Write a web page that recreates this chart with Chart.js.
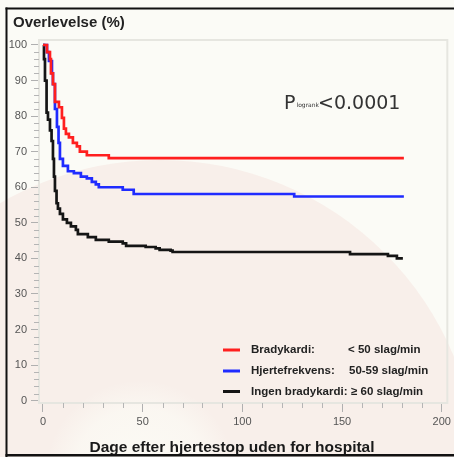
<!DOCTYPE html>
<html lang="da">
<head>
<meta charset="UTF-8">
<title>Overlevelse</title>
<style>
  html, body { margin: 0; padding: 0; background: #fbfbf6; }
  #wrap { width: 454px; height: 457px; }
</style>
</head>
<body>
<div id="wrap"><canvas id="kmChart" width="454" height="457"></canvas></div>
<script src="https://cdn.jsdelivr.net/npm/chart.js@4.4.1/dist/chart.umd.min.js"></script>
<script>
// grupper efter hjertefrekvens
var groupNames = ['Bradykardi:', 'Hjertefrekvens:', 'Ingen bradykardi:'];
var groupRates = ['< 50 slag/min', '50-59 slag/min', '\u2265 60 slag/min'];
var groupColors = ['#ff1f1f', '#1f2bff', '#151515'];

// Kaplan-Meier trin: dag og overlevelse (%) efter haendelsen
var redDays = [0, 2, 3.5, 4, 5, 6, 8, 9.5, 10.5, 11.5, 13, 15, 17, 18.5, 22, 33, 181];
var redSurv = [100, 98, 96, 92, 89, 84, 82.5, 79.5, 76.5, 75, 74, 72.5, 71.5, 70, 69, 68.2, 68.2];

var blueDays = [0, 2, 3, 4.5, 5, 6, 7, 7.8, 8.5, 10, 12.5, 15.5, 19, 22, 24.5, 26.5, 28, 40, 45.5, 126, 181];
var blueSurv = [100, 98, 95.5, 92, 89, 82, 77, 72.5, 68, 66, 64.5, 64, 63, 62.5, 61.5, 60.8, 60, 59.3, 58.1, 57.4, 57.4];

var blackDays = [0, 0.5, 1, 1.8, 2.5, 3.5, 4.3, 5, 5.5, 6, 6.8, 7.5, 8.5, 10, 12, 14, 16.5, 17.5, 22.5, 26.5, 33, 40, 41.7, 51.5, 56.5, 58.5, 64, 65, 154, 173, 177.5, 180.5];
var blackSurv = [100, 96, 90, 81, 79, 76, 73, 68, 63, 59, 55.5, 54, 52.5, 51, 50, 49, 48, 46.8, 46, 45.2, 44.7, 44.2, 43.5, 43.2, 42.8, 42.4, 42.2, 41.8, 41.2, 40.7, 40, 40];

var xTicks = [0, 50, 100, 150, 200];
var yTicks = [0, 10, 20, 30, 40, 50, 60, 70, 80, 90, 100];

var fontFam = "'Liberation Sans', Arial, sans-serif";
var pFont = "'DejaVu Sans', sans-serif";

function toPoints(days, surv) {
    var pts = [];
    for (var i = 0; i < days.length; i++) {
        pts.push({ x: days[i], y: surv[i] });
    }
    return pts;
}

function makeSet(i, days, surv) {
    return {
        label: groupNames[i],
        data: toPoints(days, surv),
        borderColor: groupColors[i],
        borderWidth: 2.7,
        stepped: true,
        pointRadius: 0,
        fill: false
    };
}

// baggrund med den lyse cirkel
var backdrop = {
    id: 'backdrop',
    beforeDraw: function (chart) {
        var ctx = chart.ctx;
        ctx.save();
        ctx.fillStyle = '#fbfbf6';
        ctx.fillRect(0, 0, chart.width, chart.height);
        ctx.fillStyle = '#f8efea';
        ctx.beginPath();
        ctx.arc(160, 478, 318, 0, Math.PI * 2);
        ctx.fill();
        var g = ctx.createRadialGradient(140, 475, 0, 140, 475, 95);
        g.addColorStop(0, 'rgba(252,252,246,0.9)');
        g.addColorStop(0.7, 'rgba(252,252,246,0.6)');
        g.addColorStop(1, 'rgba(252,252,246,0)');
        ctx.fillStyle = g;
        ctx.fillRect(0, 360, 300, 97);
        ctx.restore();
    }
};

// ramme, små streger, tekster og signaturforklaring
var overlay = {
    id: 'overlay',
    afterDraw: function (chart) {
        var ctx = chart.ctx;
        var a = chart.chartArea;
        var xs = chart.scales.x, ys = chart.scales.y;
        ctx.save();

        ctx.strokeStyle = '#e6e6e0';
        ctx.lineWidth = 2;
        ctx.strokeRect(a.left, a.top, a.right - a.left, a.bottom - a.top);

        ctx.strokeStyle = '#b5b5b5';
        ctx.lineWidth = 1;
        ctx.beginPath();
        for (var v = 2; v < 100; v += 2) {
            if (v % 10 === 0) continue;
            var py = Math.round(ys.getPixelForValue(v)) + 0.5;
            ctx.moveTo(a.left - 5, py);
            ctx.lineTo(a.left, py);
        }
        for (var t = 10; t < 200; t += 10) {
            if (t % 50 === 0) continue;
            var px = Math.round(xs.getPixelForValue(t)) + 0.5;
            ctx.moveTo(px, a.bottom);
            ctx.lineTo(px, a.bottom + 5);
        }
        ctx.stroke();

        ctx.fillStyle = '#222';
        ctx.textBaseline = 'alphabetic';
        ctx.textAlign = 'left';
        ctx.font = 'bold 15px ' + fontFam;
        ctx.fillText('Overlevelse (%)', 13, 27);

        ctx.fillStyle = '#333';
        ctx.font = '19px ' + pFont;
        ctx.fillText('P', 284, 109);
        ctx.font = '6px ' + pFont;
        ctx.fillText('logrank', 296.5, 106.5);
        ctx.font = '19px ' + pFont;
        ctx.fillText('<0.0001', 318, 109);

        var rows = [350, 371, 391.5];
        var rateX = [348, 349, 351];
        ctx.textBaseline = 'middle';
        ctx.font = 'bold 11.5px ' + fontFam;
        for (var i = 0; i < rows.length; i++) {
            ctx.strokeStyle = groupColors[i];
            ctx.lineWidth = 3;
            ctx.beginPath();
            ctx.moveTo(223, rows[i]);
            ctx.lineTo(240, rows[i]);
            ctx.stroke();
            ctx.fillStyle = '#222';
            ctx.fillText(groupNames[i], 251, rows[i]);
            ctx.fillText(groupRates[i], rateX[i], rows[i]);
        }

        ctx.textBaseline = 'alphabetic';
        ctx.textAlign = 'center';
        ctx.font = 'bold 15.5px ' + fontFam;
        ctx.fillStyle = '#1a1a1a';
        ctx.fillText('Dage efter hjertestop uden for hospital', 232, 452);

        // sort kant
        ctx.fillStyle = '#111';
        ctx.fillRect(5.5, 7.5, 2, 450);
        ctx.fillRect(5.5, 7.5, 449, 2);
        ctx.fillRect(5.5, 454, 449, 2.5);
        ctx.restore();
    }
};

var tickFont = { family: fontFam, size: 11 };

new Chart(document.getElementById('kmChart'), {
    type: 'line',
    data: {
        datasets: [
            makeSet(0, redDays, redSurv),
            makeSet(1, blueDays, blueSurv),
            makeSet(2, blackDays, blackSurv)
        ]
    },
    options: {
        responsive: false,
        animation: false,
        layout: { padding: { top: 40, right: 5, left: 0, bottom: 0 } },
        plugins: {
            legend: { display: false },
            tooltip: { enabled: false }
        },
        scales: {
            x: {
                type: 'linear',
                min: -2,
                max: 202.8,
                afterFit: function (s) { s.height = 54; },
                afterBuildTicks: function (s) {
                    s.ticks = xTicks.map(function (v) { return { value: v }; });
                },
                ticks: { font: tickFont, color: '#555', padding: 3, maxRotation: 0, autoSkip: false },
                grid: { drawOnChartArea: false, tickLength: 9, color: '#b0b0b0' },
                border: { display: false }
            },
            y: {
                type: 'linear',
                min: -0.65,
                max: 101.4,
                afterFit: function (s) { s.width = 39; },
                afterBuildTicks: function (s) {
                    s.ticks = yTicks.map(function (v) { return { value: v }; });
                },
                ticks: { font: tickFont, color: '#555', padding: 4, autoSkip: false },
                grid: { drawOnChartArea: false, tickLength: 8, color: '#b0b0b0' },
                border: { display: false }
            }
        }
    },
    plugins: [backdrop, overlay]
});
</script>
</body>
</html>
